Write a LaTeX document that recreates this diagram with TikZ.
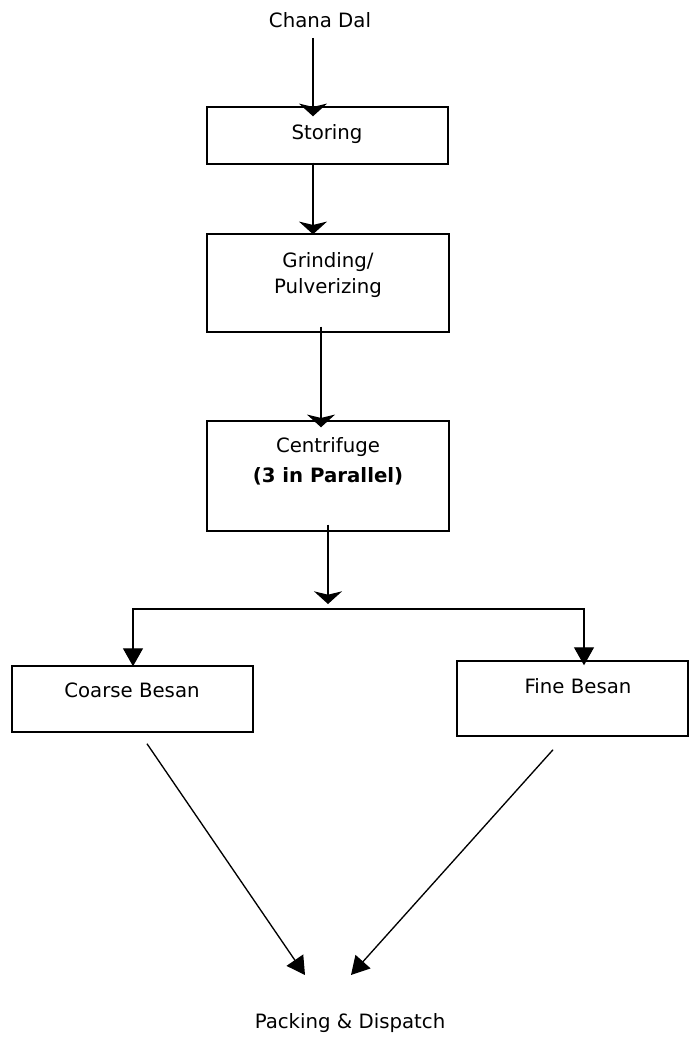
\documentclass[tikz,border=0pt]{standalone}
\usepackage{fontspec}
\setmainfont{DejaVu Sans}
\usetikzlibrary{arrows.meta,fit,calc}
\tikzset{
  boxnode/.style={draw=black, line width=1.1pt, inner sep=0pt, fill=none},
  lbl/.style={anchor=base, inner sep=0pt, font=\fontsize{14.8pt}{18pt}\selectfont},
  toparr/.style={line width=1pt, -{Stealth[length=9.5pt,width=21pt,inset=2.5pt]}},
  triarr/.style={line width=1pt, -{Triangle[length=13.5pt,width=15pt]}},
}
\begin{document}
\begin{tikzpicture}[x=0.75pt,y=-0.75pt]
\useasboundingbox (0,0) rectangle (689,1038);
\fill[white] (0,0) rectangle (689,1038);

% boxes
\node[boxnode, fit={(207,107) (448,164)}] (stor) {};
\node[boxnode, fit={(207,234) (449,332)}] (grind) {};
\node[boxnode, fit={(207,421) (449,531)}] (cent) {};
\node[boxnode, fit={(12,666) (253,732)}] (coarse) {};
\node[boxnode, fit={(457,661) (688,736)}] (fine) {};

% texts
\node[lbl] (chana) at (320,28) {Chana Dal};
\node[lbl] (stortxt) at (327,140) {Storing};
\node[lbl] (grindA) at (328,267) {Grinding/};
\node[lbl] (grindB) at (328,293) {Pulverizing};
\node[lbl] (centA) at (328,452) {Centrifuge};
\node[lbl, font=\fontsize{14.8pt}{18pt}\selectfont\bfseries] (centB) at (328,482) {(3 in Parallel)};
\node[lbl] (coarsetxt) at (132,697) {Coarse Besan};
\node[lbl] (finetxt) at (578,693) {Fine Besan};
\node[lbl] (pack) at (350,1028) {Packing \& Dispatch};

\coordinate (split) at (328,609);

% connectors
\draw[toparr] ($(chana.base)+(-7,10)$) -- ($(stor.north)+(-14.5,10)$);
\draw[toparr] ($(stor.south)+(-14.5,-2)$) -- ($(grind.north)+(-15,1)$);
\draw[toparr] ($(grind.south)+(-7,-6)$) -- ($(cent.north)+(-7,7)$);
\draw[toparr] ($(cent.south)+(0,-7)$) -- ($(split)+(0,-5)$);
\draw[triarr] (split) -| ($(coarse.north)+(0.5,1)$);
\draw[triarr] (split) -| ($(fine.north)+(11.5,5)$);
\draw[triarr] ($(coarse.south)+(14.5,11)$) -- ($(pack.base)+(-45,-53)$);
\draw[triarr] ($(fine.south)+(-19.5,13)$) -- ($(pack.base)+(1,-53)$);
\end{tikzpicture}
\end{document}
